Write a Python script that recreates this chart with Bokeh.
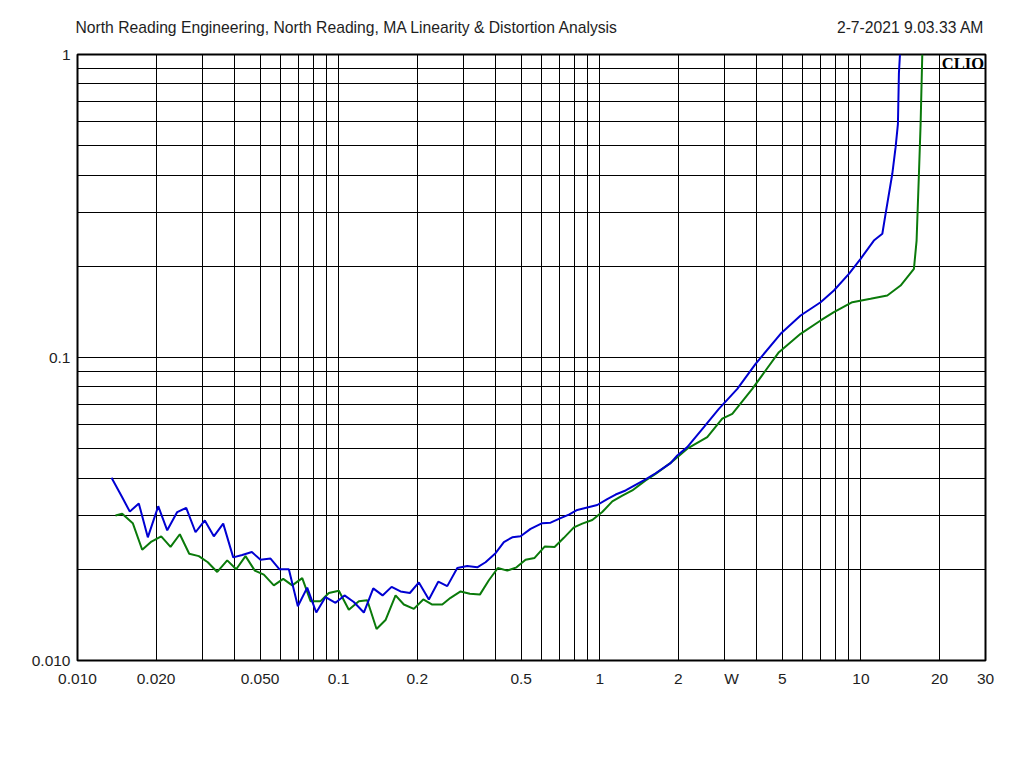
from bokeh.plotting import figure
from bokeh.models import Range1d, FixedTicker, Label, LogAxis
from bokeh.embed import file_html
from bokeh.resources import INLINE

# ---- data ----
blue_x = [0.0135, 0.01483, 0.01586, 0.01717, 0.01859, 0.02038, 0.02206, 0.02409, 0.02608, 0.02831,
          0.03073, 0.03327, 0.03614, 0.03948, 0.04273, 0.04652, 0.05022, 0.05486, 0.05937, 0.06447,
          0.06979, 0.0758, 0.08209, 0.08909, 0.0973, 0.1053, 0.1143, 0.1249, 0.1357, 0.1473,
          0.1595, 0.1726, 0.1874, 0.2029, 0.2216, 0.2407, 0.2606, 0.2847, 0.3108, 0.3395,
          0.3652, 0.3989, 0.4293, 0.4623, 0.4975, 0.5433, 0.6023, 0.6481, 0.7078, 0.7615,
          0.8201, 0.8956, 0.978, 1.068, 1.150, 1.256, 1.371, 1.498, 1.636, 1.867,
          1.981, 2.163, 2.504, 2.858, 3.363, 3.951, 4.926, 5.875, 7.01, 7.881,
          8.995, 9.975, 11.21, 12.08, 12.43, 13.19, 13.58, 13.86, 13.98, 14.11]
blue_y = [0.0401, 0.0346, 0.0310, 0.0330, 0.0255, 0.0323, 0.0269, 0.0309, 0.0319, 0.0265,
          0.0290, 0.0257, 0.0283, 0.0219, 0.0223, 0.0228, 0.0215, 0.0217, 0.0200, 0.0200,
          0.0151, 0.0174, 0.0144, 0.0162, 0.0155, 0.0164, 0.0156, 0.0144, 0.0173, 0.0164,
          0.0175, 0.0169, 0.0167, 0.0181, 0.0159, 0.0182, 0.0176, 0.0202, 0.0205, 0.0203,
          0.0211, 0.0226, 0.0246, 0.0255, 0.0257, 0.0272, 0.0284, 0.0285, 0.0295, 0.0303,
          0.0314, 0.0320, 0.0326, 0.0341, 0.0353, 0.0364, 0.0380, 0.0396, 0.0415, 0.0448,
          0.0475, 0.0506, 0.0589, 0.0677, 0.0788, 0.0953, 0.1197, 0.1376, 0.1522, 0.1664,
          0.1889, 0.2117, 0.2432, 0.2561, 0.2980, 0.4040, 0.4943, 0.5905, 0.8635, 1.0]

green_x = [0.01398, 0.01483, 0.01628, 0.01769, 0.0192, 0.02092, 0.02271, 0.02465, 0.02678, 0.02915,
           0.03155, 0.03428, 0.03744, 0.04053, 0.04399, 0.04776, 0.05171, 0.05647, 0.06135, 0.06642,
           0.07255, 0.07806, 0.08525, 0.09173, 0.1002, 0.1094, 0.1195, 0.1287, 0.1397, 0.1512,
           0.1652, 0.1777, 0.1941, 0.2109, 0.2283, 0.2494, 0.2683, 0.2931, 0.3181, 0.3474,
           0.3761, 0.4071, 0.4423, 0.48, 0.5198, 0.5628, 0.6163, 0.6713, 0.7287, 0.7959,
           0.857, 0.9361, 1.022, 1.117, 1.22, 1.332, 1.498, 1.636, 1.867, 2.163,
           2.58, 2.945, 3.217, 3.837, 4.315, 4.853, 5.875, 7.01, 7.881, 9.27,
           10.89, 12.62, 14.19, 15.96, 16.34, 16.68, 16.93, 17.18]
green_y = [0.0301, 0.0305, 0.0284, 0.0232, 0.0247, 0.0257, 0.0237, 0.0261, 0.0225, 0.0221,
           0.0211, 0.0196, 0.0214, 0.0200, 0.0221, 0.0198, 0.0192, 0.0177, 0.0186, 0.0177,
           0.0187, 0.0157, 0.0157, 0.0167, 0.0170, 0.0147, 0.0157, 0.0158, 0.0127, 0.0136,
           0.0164, 0.0153, 0.0148, 0.0159, 0.0153, 0.0153, 0.0161, 0.0169, 0.0166, 0.0165,
           0.0184, 0.0202, 0.0198, 0.0203, 0.0215, 0.0218, 0.0238, 0.0237, 0.0254, 0.0275,
           0.0283, 0.0291, 0.0309, 0.0335, 0.0350, 0.0364, 0.0393, 0.0413, 0.0449, 0.0500,
           0.0546, 0.0628, 0.0652, 0.0788, 0.0906, 0.1041, 0.1197, 0.1325, 0.1411, 0.1522,
           0.1562, 0.1602, 0.1728, 0.1962, 0.2432, 0.4040, 0.5905, 1.0]

x_tick_values = [0.01, 0.02, 0.05, 0.1, 0.2, 0.5, 1, 2, 3.2, 5, 10, 20, 30]
x_tick_labels = ["0.010", "0.020", "0.050", "0.1", "0.2", "0.5", "1", "2", "W", "5", "10", "20", "30"]
y_tick_values = [0.01, 0.1, 1]
y_tick_labels = ["0.010", "0.1", "1"]

x_grid_values = [0.02, 0.03, 0.04, 0.05, 0.06, 0.07, 0.08, 0.09,
                 0.1, 0.2, 0.3, 0.4, 0.5, 0.6, 0.7, 0.8, 0.9,
                 1, 2, 3, 4, 5, 6, 7, 8, 9, 10, 20]
y_grid_values = [0.02, 0.03, 0.04, 0.05, 0.06, 0.07, 0.08, 0.09,
                 0.1, 0.2, 0.3, 0.4, 0.5, 0.6, 0.7, 0.8, 0.9]

title_text = "North Reading Engineering, North Reading, MA Linearity & Distortion Analysis"
date_text = "2-7-2021 9.03.33 AM"
brand_text = "CLIO"
# header texts are placed (centred) above the frame at these x positions
header_at = [0.1077, 15.5]
header_texts = [title_text, date_text]

FONT = "Liberation Sans"
TXT = "#1e1e1e"

p = figure(width=1008, height=752, x_axis_type="log", y_axis_type="log",
           x_range=Range1d(0.01, 30), y_range=Range1d(0.01, 1),
           output_backend="svg", toolbar_location=None,
           min_border_left=77, min_border_right=23, min_border_top=54, min_border_bottom=92)

p.background_fill_color = "white"
p.border_fill_color = "white"
p.outline_line_color = "black"
p.outline_line_width = 2

bottom_axis = p.below[0]
left_axis = p.left[0]
header_axis = LogAxis()
p.add_layout(header_axis, "above")

for ax, vals, labs in ((bottom_axis, x_tick_values, x_tick_labels),
                       (left_axis, y_tick_values, y_tick_labels),
                       (header_axis, header_at, header_texts)):
    ax.ticker = FixedTicker(ticks=vals, minor_ticks=[])
    ax.major_label_overrides = {v: l for v, l in zip(vals, labs)}
    ax.axis_line_color = None
    ax.major_tick_line_color = None
    ax.minor_tick_line_color = None
    ax.major_tick_out = 0
    ax.major_tick_in = 0
    ax.minor_tick_out = 0
    ax.minor_tick_in = 0
    ax.major_label_text_font = FONT
    ax.major_label_text_font_size = "15.5px"
    ax.major_label_text_color = TXT
bottom_axis.major_label_standoff = 9
left_axis.major_label_standoff = 7
header_axis.major_label_standoff = 19
header_axis.major_label_text_font_size = "15.7px"

p.xgrid.ticker = FixedTicker(ticks=x_grid_values, minor_ticks=[])
p.ygrid.ticker = FixedTicker(ticks=y_grid_values, minor_ticks=[])
for g in (p.xgrid[0], p.ygrid[0]):
    g.grid_line_color = "black"
    g.grid_line_width = 1
    g.grid_line_alpha = 1.0

p.line(green_x, green_y, line_color="#0a7a0a", line_width=2)
p.line(blue_x, blue_y, line_color="#0000d2", line_width=2)

p.add_layout(Label(x=906.5, y=597, x_units="screen", y_units="screen", text=brand_text,
                   text_font="Liberation Serif", text_font_style="bold", text_font_size="16.5px",
                   text_color="black", text_align="right", text_baseline="alphabetic",
                   level="overlay"))

open("out.html", "w").write(file_html(p, INLINE))
